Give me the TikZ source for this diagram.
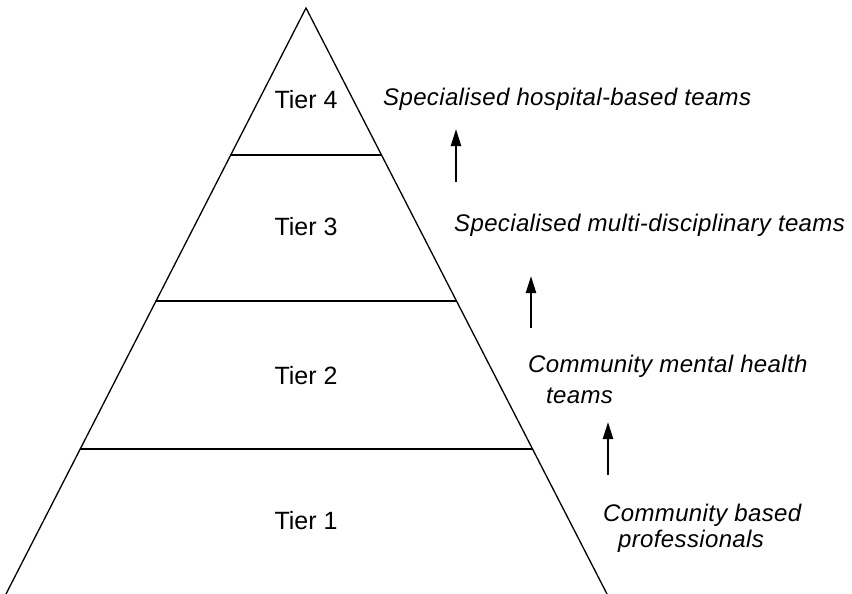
\documentclass[tikz,border=0pt]{standalone}
\usepackage{fontspec}
\setmainfont{Liberation Sans}
\newfontfamily\tierfont{Liberation Sans}
\newfontfamily\teamfont[LetterSpace=1.5]{Liberation Sans}
\usetikzlibrary{arrows.meta,calc}

\tikzset{
  edge/.style={line width=1.3pt, line cap=round},
  tierlabel/.style={anchor=base, inner sep=0pt, font=\tierfont\fontsize{25pt}{29pt}\selectfont},
  teamlabel/.style={anchor=base west, inner sep=0pt, font=\teamfont\itshape\fontsize{24pt}{28pt}\selectfont},
  uparrow/.style={line width=2.4pt, -{Triangle[length=17pt,width=10pt]}}
}

\begin{document}
\begin{tikzpicture}[x=1pt,y=-1pt]
  \useasboundingbox (0,0) rectangle (852,594);

  % pyramid outline (open at the bottom)
  \coordinate (apex) at (306,8);
  \coordinate (bl) at (6,594);
  \coordinate (br) at (607,594);
  \draw[edge] (bl) -- (apex) -- (br);

  % tier dividers
  \foreach \t/\n in {0.2509/a, 0.5/b, 0.7526/c} {
    \coordinate (l\n) at ($(apex)!\t!(bl)$);
    \coordinate (r\n) at ($(apex)!\t!(br)$);
    \draw[edge] (l\n) -- (r\n);
  }

  % tier names
  \node[tierlabel] (t4) at (306,109) {Tier 4};
  \node[tierlabel] (t3) at (306,235) {Tier 3};
  \node[tierlabel] (t2) at (306,384) {Tier 2};
  \node[tierlabel] (t1) at (306,529) {Tier 1};

  % service descriptions
  \node[teamlabel] (s4) at (383,106) {Specialised hospital-based teams};
  \node[teamlabel] (s3) at (454,231.5) {Specialised multi-disciplinary teams};
  \node[teamlabel] (s2a) at (528,372) {Community mental health};
  \node[teamlabel] (s2b) at (546,403.5) {teams};
  \node[teamlabel] (s1a) at (603,521.5) {Community based};
  \node[teamlabel] (s1b) at (618,547) {professionals};

  % escalation arrows
  \coordinate (a1s) at (456,182);
  \coordinate (a1e) at (456,129);
  \coordinate (a2s) at (531,328);
  \coordinate (a2e) at (531,276);
  \coordinate (a3s) at (608,475);
  \coordinate (a3e) at (608,422);
  \draw[uparrow] (a1s) -- (a1e);
  \draw[uparrow] (a2s) -- (a2e);
  \draw[uparrow] (a3s) -- (a3e);
\end{tikzpicture}
\end{document}
